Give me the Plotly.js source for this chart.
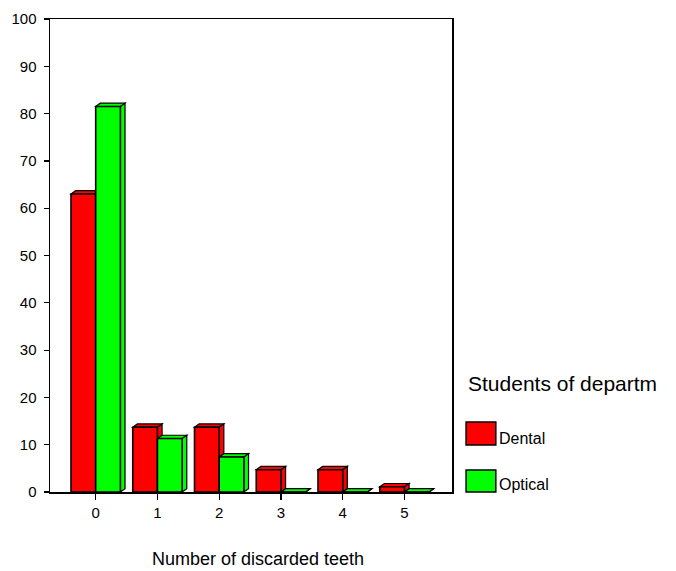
<!DOCTYPE html>
<html>
<head>
<meta charset="utf-8">
<script src="https://cdn.plot.ly/plotly-3.0.1.min.js"></script>
<style>html,body{margin:0;padding:0;background:#fff;}#chart{width:676px;height:571px;}</style>
</head>
<body>
<div id="chart"></div>
<script>
const categories = ['0', '1', '2', '3', '4', '5'];
const dental = [63.0, 13.7, 13.7, 4.7, 4.7, 1.1];
const optical = [81.5, 11.3, 7.4, 0, 0, 0];
const seriesNames = ['Dental', 'Optical'];
const seriesColors = ['#ff0000', '#00ff00'];
const yTicks = [0, 10, 20, 30, 40, 50, 60, 70, 80, 90, 100];
const xTitle = 'Number of discarded teeth';
const legendTitle = 'Students of departm';

const xIdx = categories.map((c, i) => i);
const series = [dental, optical];
const FONT = 'Liberation Sans, Arial, sans-serif';

const traces = series.map((vals, s) => ({
  type: 'bar',
  x: xIdx,
  y: vals,
  name: seriesNames[s],
  marker: { color: seriesColors[s], line: { color: '#000', width: 1.6 } },
  hoverinfo: 'y'
}));

// 3-D depth faces computed from the data values
const halfW = 0.4, dx = 0.075, dy = 0.7;
const shapes = [];
series.forEach((vals, s) => {
  vals.forEach((v, i) => {
    const l = xIdx[i] - halfW + s * halfW;
    const r = l + halfW;
    const style = { type: 'path', xref: 'x', yref: 'y', layer: 'below',
      fillcolor: seriesColors[s], line: { color: '#000', width: 1.2 } };
    shapes.push(Object.assign({}, style, {
      path: `M${l},${v} L${l + dx},${v + dy} L${r + dx},${v + dy} L${r},${v} Z`
    }));
    shapes.push(Object.assign({}, style, {
      path: `M${r},0 L${r},${v} L${r + dx},${v + dy} L${r + dx},${dy} Z`
    }));
  });
});

// legend drawn as boxes + labels
const legendBoxY = [[0.0994, 0.148], [0, 0.0465]];
const legendTextY = [0.114, 0.0169];
const annotations = [
  { text: xTitle, xref: 'paper', yref: 'paper', x: 0.517, y: 0, yshift: -67,
    xanchor: 'center', yanchor: 'middle', showarrow: false,
    font: { family: FONT, size: 18, color: '#000' } },
  { text: legendTitle, xref: 'paper', yref: 'paper', x: 1.035, y: 0.2304,
    xanchor: 'left', yanchor: 'middle', showarrow: false,
    font: { family: FONT, size: 21, color: '#000' } }
];
seriesNames.forEach((n, s) => {
  shapes.push({ type: 'rect', xref: 'paper', yref: 'paper',
    x0: 1.035, x1: 1.109, y0: legendBoxY[s][0], y1: legendBoxY[s][1],
    fillcolor: seriesColors[s], line: { color: '#000', width: 1.5 } });
  annotations.push({ text: n, xref: 'paper', yref: 'paper', x: 1.111, y: legendTextY[s],
    xanchor: 'left', yanchor: 'middle', showarrow: false,
    font: { family: FONT, size: 16, color: '#000' } });
});

const layout = {
  width: 676, height: 571,
  margin: { l: 50, r: 224, t: 19, b: 79, pad: 0 },
  paper_bgcolor: '#fff', plot_bgcolor: '#fff',
  showlegend: false,
  barmode: 'group', bargap: 0.2, bargroupgap: 0,
  font: { family: FONT, size: 15, color: '#000' },
  xaxis: {
    type: 'linear', range: [-0.74, 5.77],
    tickvals: xIdx, ticktext: categories,
    ticks: 'outside', ticklen: 6, tickwidth: 1.2, tickcolor: '#000',
    showline: true, linecolor: '#000', linewidth: 1.5, mirror: true,
    showgrid: false, zeroline: false,
    tickfont: { family: FONT, size: 15, color: '#000' }
  },
  yaxis: {
    range: [0, 100], tickvals: yTicks, ticktext: yTicks.map(String),
    ticks: 'outside', ticklen: 5, tickwidth: 1.2, tickcolor: '#000',
    ticklabelstandoff: 4,
    showline: true, linecolor: '#000', linewidth: 1.5, mirror: true,
    showgrid: false, zeroline: false,
    tickfont: { family: FONT, size: 15, color: '#000' }
  },
  shapes: shapes,
  annotations: annotations
};

Plotly.newPlot('chart', traces, layout, { displayModeBar: false, staticPlot: true });
</script>
</body>
</html>
